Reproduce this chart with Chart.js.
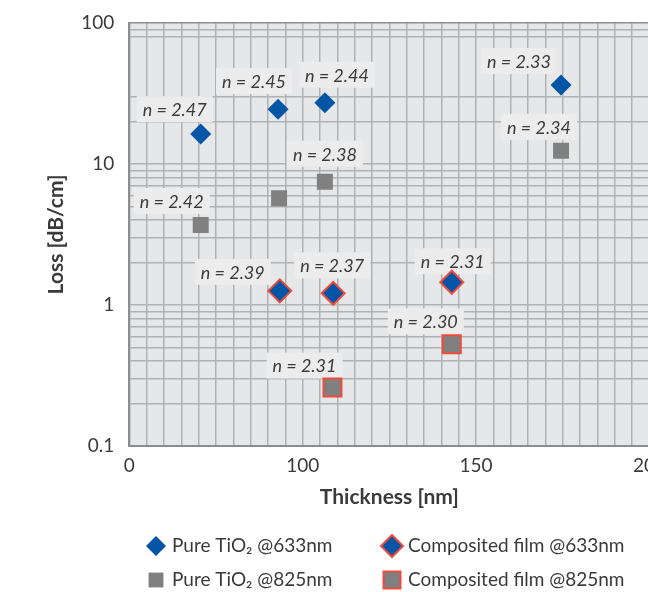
<!DOCTYPE html>
<html>
<head>
<meta charset="utf-8">
<script src="https://cdn.jsdelivr.net/npm/chart.js@4.4.1/dist/chart.umd.min.js"></script>
<style>
  html, body { margin: 0; padding: 0; background: #fff; overflow: hidden; }
  #wrap { width: 674px; height: 592px; }
</style>
</head>
<body>
<div id="wrap"><canvas id="lossChart" width="674" height="592"></canvas></div>
<script>
// data (thickness in nm, loss in dB/cm)
const pure633X = [70.6, 92.9, 106.4, 174.5];
const pure633Y = [16.3, 24.5, 27.2, 36.3];
const pure633N = ['2.47', '2.45', '2.44', '2.33'];

const pure825X = [70.6, 93.2, 106.4, 174.5];
const pure825Y = [3.69, 5.71, 7.49, 12.4];
const pure825N = ['2.42', null, '2.38', '2.34'];

const comp633X = [93.4, 108.8, 143.0];
const comp633Y = [1.26, 1.21, 1.45];
const comp633N = ['2.39', '2.37', '2.31'];

const comp825X = [108.6, 143.0];
const comp825Y = [0.26, 0.526];
const comp825N = ['2.31', '2.30'];

// axis ticks (x axis is broken: first tick is printed as 0)
const xTickValues = [50, 100, 150, 200];
const xTickLabels = ['0', '100', '150', '200'];
const yTickValues = [0.1, 1, 10, 100];
const yTickLabels = ['0.1', '1', '10', '100'];
const yGridValues = [0.1, 0.2, 0.3, 0.4, 0.5, 0.6, 0.7, 0.8, 0.9,
                     1, 2, 3, 4, 5, 6, 7, 8, 9,
                     10, 20, 30, 80, 90, 100];

// where the "n = " tags sit relative to their marker (px)
const labelOffsets = [
  [[-26, -25], [-24, -28], [12, -28], [-42, -24]],
  [[-29, -24], [0, 0], [0, -28], [-22, -24]],
  [[-47, -19], [-1, -28], [1, -21]],
  [[-28, -22], [-26, -23]]
];
const legendSlots = [[156, 546], [156, 580], [392, 546], [392, 580]];
const legendRadius = [10, 10.5, 11, 12];

const blue = '#0455a5';
const grey = '#808080';
const red = '#ef4b3a';
const textColor = '#3a3a3a';
const gridColor = '#b0b1b3';
const axisColor = '#8c8d8f';

Chart.defaults.font.family = 'Lato';
Chart.defaults.color = textColor;

function pts(xs, ys) {
  return xs.map((x, i) => ({ x: x, y: ys[i] }));
}

const nLabels = [pure633N, pure825N, comp633N, comp825N];

const plotBackground = {
  id: 'plotBackground',
  beforeDraw(chart) {
    const { ctx, chartArea: a } = chart;
    ctx.save();
    ctx.fillStyle = '#e6e7e8';
    ctx.fillRect(a.left, a.top, a.right - a.left, a.bottom - a.top);
    ctx.restore();
  }
};

const pointLabels = {
  id: 'pointLabels',
  beforeDatasetsDraw(chart) {
    const ctx = chart.ctx;
    ctx.save();
    ctx.font = 'italic 18px Lato';
    ctx.textAlign = 'center';
    ctx.textBaseline = 'middle';
    nLabels.forEach((list, i) => {
      const meta = chart.getDatasetMeta(i);
      list.forEach((n, j) => {
        if (!n) return;
        const el = meta.data[j];
        const x = el.x + labelOffsets[i][j][0];
        const y = el.y + labelOffsets[i][j][1];
        const text = 'n = ' + n;
        const w = ctx.measureText(text).width + 12;
        ctx.fillStyle = '#ececed';
        ctx.fillRect(x - w / 2, y - 13, w, 26);
        ctx.fillStyle = textColor;
        ctx.fillText(text, x, y + 1);
      });
    });
    ctx.restore();
  }
};

const sideLegend = {
  id: 'sideLegend',
  afterDraw(chart) {
    const ctx = chart.ctx;
    ctx.save();
    chart.data.datasets.forEach((ds, i) => {
      const [x, y] = legendSlots[i];
      ctx.fillStyle = ds.backgroundColor;
      ctx.strokeStyle = ds.borderColor;
      ctx.lineWidth = ds.borderWidth;
      Chart.helpers.drawPoint(ctx, {
        pointStyle: ds.pointStyle, radius: legendRadius[i], rotation: 0, borderWidth: ds.borderWidth
      }, x, y);
      ctx.fillStyle = textColor;
      ctx.font = '19px Lato';
      ctx.textAlign = 'left';
      ctx.textBaseline = 'middle';
      ctx.fillText(ds.label, x + 16, y);
    });
    ctx.restore();
  }
};

new Chart(document.getElementById('lossChart'), {
  type: 'scatter',
  data: {
    datasets: [
      {
        label: 'Pure TiO\u2082 @633nm',
        data: pts(pure633X, pure633Y),
        pointStyle: 'rectRot', pointRadius: 10.5,
        backgroundColor: blue, borderColor: blue, borderWidth: 0
      },
      {
        label: 'Pure TiO\u2082 @825nm',
        data: pts(pure825X, pure825Y),
        pointStyle: 'rect', pointRadius: 11.3,
        backgroundColor: grey, borderColor: grey, borderWidth: 0
      },
      {
        label: 'Composited film @633nm',
        data: pts(comp633X, comp633Y),
        pointStyle: 'rectRot', pointRadius: 11.5,
        backgroundColor: blue, borderColor: red, borderWidth: 2
      },
      {
        label: 'Composited film @825nm',
        data: pts(comp825X, comp825Y),
        pointStyle: 'rect', pointRadius: 12.7,
        backgroundColor: grey, borderColor: red, borderWidth: 2
      }
    ]
  },
  options: {
    responsive: false,
    animation: false,
    layout: { padding: { left: 44, top: 23, right: 0, bottom: 82 } },
    plugins: {
      legend: { display: false },
      tooltip: { enabled: false }
    },
    scales: {
      x: {
        type: 'linear',
        min: 50,
        max: 200,
        border: { color: axisColor, width: 2 },
        grid: { color: gridColor, lineWidth: 1.5, drawTicks: false },
        ticks: {
          stepSize: 5,
          autoSkip: false,
          maxRotation: 0,
          padding: 8,
          font: { size: 19 },
          callback: (v) => {
            const i = xTickValues.indexOf(v);
            return i >= 0 ? xTickLabels[i] : '';
          }
        },
        title: {
          display: true,
          text: 'Thickness [nm]',
          font: { size: 21, weight: 'bold' },
          padding: { top: 0, bottom: 0 }
        }
      },
      y: {
        type: 'logarithmic',
        min: 0.1,
        max: 100,
        afterBuildTicks: (scale) => {
          scale.ticks = yGridValues.map(v => ({ value: v }));
        },
        afterFit: (scale) => {
          scale.paddingTop = 0;
        },
        border: { color: axisColor, width: 2 },
        grid: {
          color: (c) => (c.tick && c.tick.value === 100 ? axisColor : gridColor),
          lineWidth: 1.5,
          drawTicks: false
        },
        ticks: {
          autoSkip: false,
          padding: 15,
          font: { size: 19 },
          callback: (v) => {
            const i = yTickValues.findIndex(t => Math.abs(t - v) < 1e-9);
            return i >= 0 ? yTickLabels[i] : '';
          }
        },
        title: {
          display: true,
          text: 'Loss [dB/cm]',
          font: { size: 21, weight: 'bold' },
          padding: { top: 0, bottom: -3 }
        }
      }
    }
  },
  plugins: [plotBackground, pointLabels, sideLegend]
});
</script>
</body>
</html>
